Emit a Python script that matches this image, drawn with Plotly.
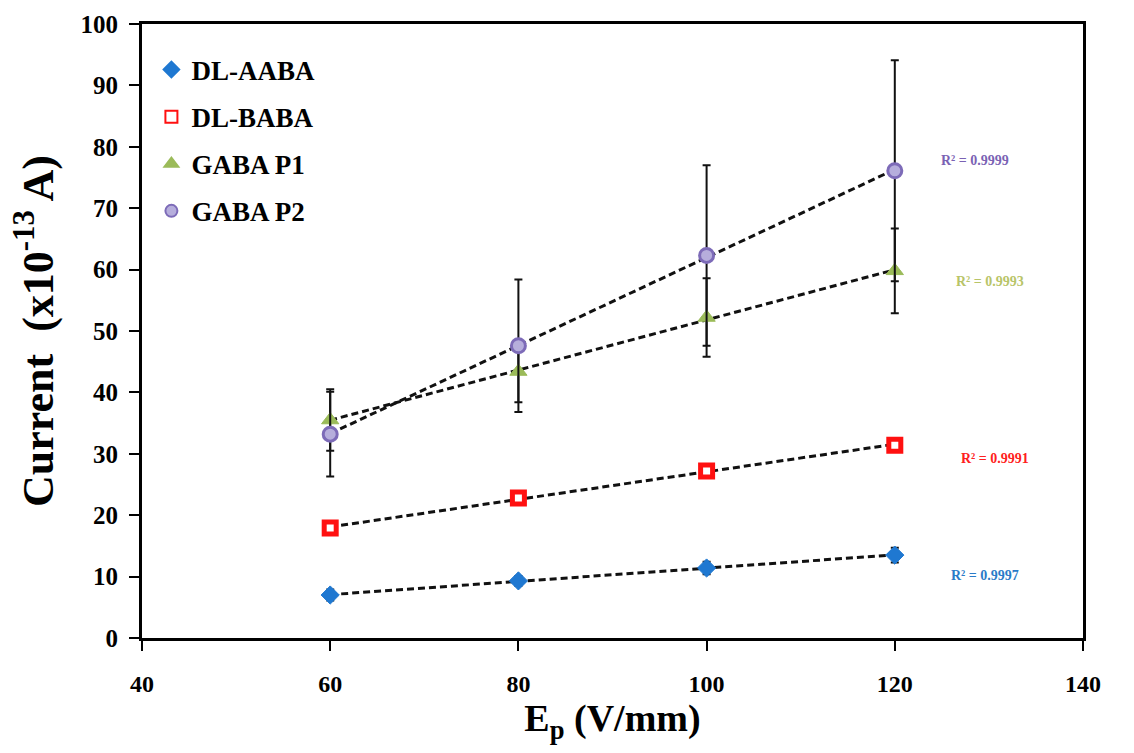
import numpy as np
import plotly.graph_objects as go

# Applied field (V/mm)
field = [60, 80, 100, 120]

# Mean currents (x10^-13 A) and their standard deviations
aaba = [7.0, 9.3, 11.4, 13.5]
aaba_err = [0.9, 0.8, 1.0, 1.2]
baba = [17.9, 22.8, 27.2, 31.4]
baba_err = [0.9, 0.9, 1.0, 1.1]
gaba_p1 = [35.5, 43.4, 52.2, 59.8]
gaba_p1_err = [5.0, 5.0, 6.4, 6.9]
gaba_p2 = [33.2, 47.6, 62.3, 76.1]
gaba_p2_err = [6.9, 10.8, 14.7, 18.0]

series_names = ["DL-AABA", "DL-BABA", "GABA P1", "GABA P2"]
r2_labels = ["R² = 0.9997", "R² = 0.9991", "R² = 0.9993", "R² = 0.9999"]
r2_pos = [(129.6, 10.1), (130.6, 29.2), (130.1, 58.0), (128.5, 77.8)]

SERIF = "Liberation Serif, Times New Roman, serif"

styles = [
    dict(symbol="diamond", size=14, color="#1f78d1", line=dict(color="#1f78d1", width=1)),
    dict(symbol="square", size=12, color="#ffffff", line=dict(color="#ff1010", width=5)),
    dict(symbol="triangle-up", size=15, color="#9bbb59", line=dict(color="#9bbb59", width=1)),
    dict(symbol="circle", size=14, color="#b6aedc", line=dict(color="#7d6bb8", width=3)),
]
label_colors = ["#2a7bc8", "#ff2020", "#b8c468", "#7a62b4"]

data = [(aaba, aaba_err), (baba, baba_err), (gaba_p1, gaba_p1_err), (gaba_p2, gaba_p2_err)]

fig = go.Figure()

# Linear trendlines (dashed black) fitted to each series
xs = np.array(field, dtype=float)
for vals, _ in data:
    slope, intercept = np.polyfit(xs, np.array(vals), 1)
    fig.add_trace(go.Scatter(
        x=[xs[0], xs[-1]], y=[slope * xs[0] + intercept, slope * xs[-1] + intercept],
        mode="lines", line=dict(color="#111111", width=3, dash="7px,4px"),
        showlegend=False, hoverinfo="skip",
    ))

# Data points with error bars
for i, (name, (vals, errs), st) in enumerate(zip(series_names, data, styles)):
    fig.add_trace(go.Scatter(
        x=field, y=vals, name=name, mode="markers", legendgroup=f"g{i}",
        marker=st,
        error_y=dict(type="data", array=errs, visible=True, color="#111111",
                     thickness=2, width=4),
    ))

# R² annotations
for text, (ax, ay), col in zip(r2_labels, r2_pos, label_colors):
    fig.add_annotation(x=ax, y=ay, text=f"<b>{text}</b>", showarrow=False,
                       font=dict(family=SERIF, size=14, color=col),
                       xanchor="center", yanchor="middle")

fig.update_layout(
    width=1134, height=753,
    margin=dict(l=142, r=51, t=24, b=115),
    paper_bgcolor="white", plot_bgcolor="white",
    font=dict(family=SERIF, color="black"),
    legend=dict(
        x=0.01, y=0.965, xanchor="left", yanchor="top",
        font=dict(family=SERIF, size=27, color="black", weight="bold"),
        bgcolor="rgba(0,0,0,0)", itemsizing="constant", tracegroupgap=9,
        itemwidth=30,
    ),
    xaxis=dict(
        range=[40, 140], dtick=20, tick0=40,
        showline=True, linecolor="black", linewidth=3, mirror=True,
        ticks="outside", ticklen=10, tickwidth=2, tickcolor="black",
        showgrid=False, zeroline=False, ticklabelstandoff=12,
        tickfont=dict(family=SERIF, size=24, color="black", weight="bold"),
        title=dict(text="<b>E<sub>p</sub> (V/mm)</b>",
                   font=dict(family=SERIF, size=38, color="black"), standoff=2),
    ),
    yaxis=dict(
        range=[0, 100], dtick=10,
        showline=True, linecolor="black", linewidth=3, mirror=True,
        ticks="outside", ticklen=10, tickwidth=2, tickcolor="black",
        showgrid=False, zeroline=False, ticklabelstandoff=6,
        tickfont=dict(family=SERIF, size=25, color="black", weight="bold"),
        title=dict(text="<b>Current  (x10<sup>-13</sup> A)</b>",
                   font=dict(family=SERIF, size=44, color="black"), standoff=14),
    ),
)

fig.write_html("out.html")
